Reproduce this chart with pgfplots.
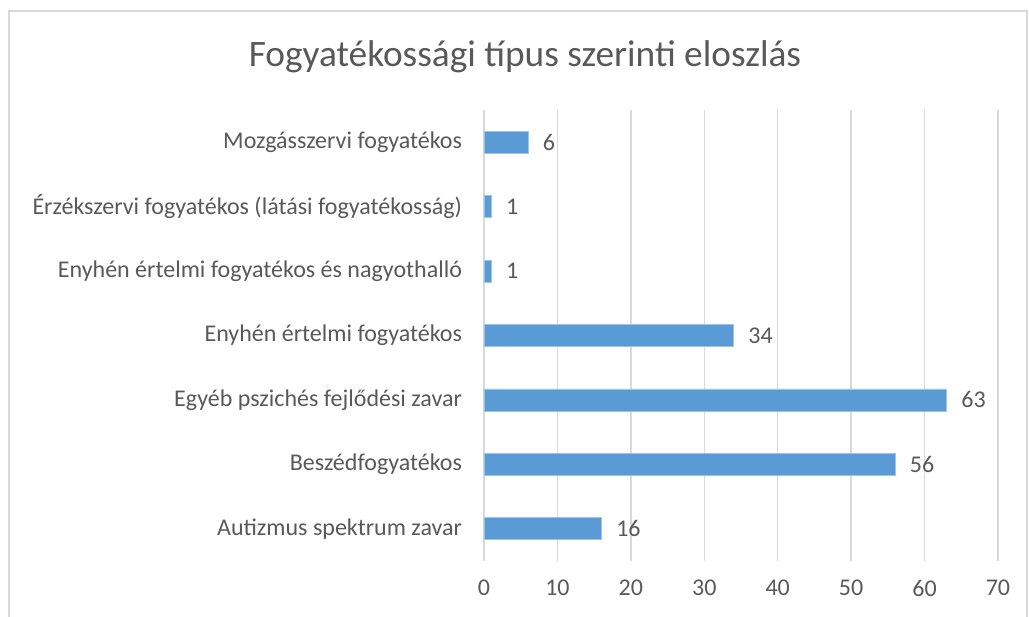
\documentclass[border=0pt]{standalone}
\usepackage{fontspec}
\setmainfont{Carlito}
\usepackage{pgfplots}
\pgfplotsset{compat=1.18}
\definecolor{barblue}{HTML}{5B9BD5}
\definecolor{txtgray}{HTML}{595959}
\definecolor{gridgray}{HTML}{D9D9D9}

\begin{document}
\begin{tikzpicture}[x=0.75pt,y=0.75pt]
% canvas: 1px = 0.75pt, axis corner at reference pixel (484,561)
\path[use as bounding box] (-484,-56) rectangle (545,561);
\draw[gridgray,line width=1.5] (-475,-70) -- (-475,550) -- (543,550) -- (543,-70);
\node[txtgray,font=\fontsize{28}{33}\selectfont] at (41,504) {Fogyatékossági típus szerinti eloszlás};
\begin{axis}[
    at={(0,0)},anchor=south west,
    scale only axis,
    width=385.5pt,
    height=338.25pt,
    xbar,
    bar width=16.5pt,
    xmin=0, xmax=70,
    ymin=-0.5, ymax=6.5,
    xtick={0,10,...,70},
    ytick={0,...,6},
    yticklabels={Autizmus spektrum zavar,Beszédfogyatékos,Egyéb pszichés fejlődési zavar,Enyhén értelmi fogyatékos,Enyhén értelmi fogyatékos és nagyothalló,Érzékszervi fogyatékos (látási fogyatékosság),Mozgásszervi fogyatékos},
    axis line style={draw=none},
    major tick length=0pt,
    xmajorgrids=true,
    grid style={gridgray,line width=1.1pt},
    ticklabel style={txtgray,font=\fontsize{18}{21}\selectfont},
    /pgf/number format/assume math mode=true,
    xticklabel style={yshift=-11pt},
    yticklabel style={xshift=-13pt},
    nodes near coords,
    nodes near coords style={txtgray,font=\fontsize{18}{21}\selectfont,xshift=7.5pt},
    clip=false,
]
\addplot+[fill=barblue,draw=barblue!60!white,line width=0.5pt] coordinates {
(16,0) (56,1) (63,2) (34,3) (1,4) (1,5) (6,6)};
\end{axis}
\end{tikzpicture}
\end{document}
